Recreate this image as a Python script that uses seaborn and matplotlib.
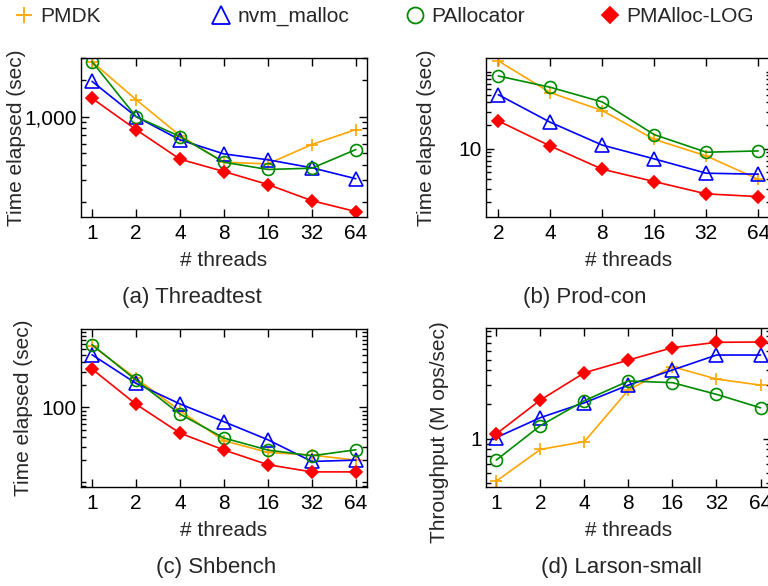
import numpy as np
import pandas as pd
import matplotlib
matplotlib.use("Agg")
import matplotlib.pyplot as plt
import matplotlib.ticker as mticker
from matplotlib.lines import Line2D
import seaborn as sns

ALLOCATORS = ["PMDK", "nvm_malloc", "PAllocator", "PMAlloc-LOG"]

THREADS = [1, 2, 4, 8, 16, 32, 64]
THREADS_PRODCON = [2, 4, 8, 16, 32, 64]

# (a) Threadtest - time elapsed (sec)
threadtest_pmdk = [2825, 1378, 698, 422, 409, 590, 782]
threadtest_nvm = [1947, 1000, 644, 494, 442, 380, 309]
threadtest_palloc = [2825, 1000, 686, 422, 368, 377, 536]
threadtest_pmalloc = [1413, 782, 447, 354, 277, 204, 166]

# (b) Prod-con - time elapsed (sec)
prodcon_pmdk = [138, 53.4, 31.2, 13.2, 8.04, 4.0]
prodcon_nvm = [50.2, 22.0, 11.1, 7.35, 4.79, 4.65]
prodcon_palloc = [87.9, 62.7, 40.4, 15.2, 8.98, 9.33]
prodcon_pmalloc = [22.9, 10.8, 5.4, 3.73, 2.58, 2.38]

# (c) Shbench - time elapsed (sec)
shbench_pmdk = [663, 244, 90, 35.9, 25.1, 23.1, 19.8]
shbench_nvm = [502, 209, 111, 64.3, 37.0, 19.0, 19.8]
shbench_palloc = [684, 231, 81.4, 39.0, 27.0, 22.6, 27.2]
shbench_pmalloc = [324, 110, 45.4, 27.0, 17.2, 13.8, 13.8]

# (d) Larson-small - throughput (M ops/sec)
larson_pmdk = [0.42, 0.80, 0.94, 2.69, 4.32, 3.36, 2.97]
larson_nvm = [1.02, 1.53, 2.07, 2.97, 4.04, 5.48, 5.48]
larson_palloc = [0.645, 1.30, 2.16, 3.23, 3.12, 2.46, 1.87]
larson_pmalloc = [1.10, 2.19, 3.82, 4.95, 6.37, 7.10, 7.15]

STYLES = {
    "PMDK": dict(color="#ffa500", marker="+", ms=8.6, fill=False, leg_ms=11),
    "nvm_malloc": dict(color="#0000ff", marker="^", ms=9.4, fill=False, leg_ms=12.5),
    "PAllocator": dict(color="#008a00", marker="o", ms=8.6, fill=False, leg_ms=11.5),
    "PMAlloc-LOG": dict(color="#ff0000", marker="D", ms=6.3, fill=True, leg_ms=8.6),
}

sns.set_style("ticks")
plt.rcParams["font.family"] = ["Liberation Sans", "DejaVu Sans"]
plt.rcParams["axes.linewidth"] = 1.0
plt.rcParams["axes.edgecolor"] = "black"

W, H = 768, 586
fig = plt.figure(figsize=(W / 100, H / 100), dpi=100)


def px_rect(left, top, right, bottom):
    return [left / W, 1 - bottom / H, (right - left) / W, (bottom - top) / H]


def draw_panel(ax, threads, series, xlim, ylim, ytick, ylabel, ylabel_xy):
    df = pd.DataFrame({"threads": threads, **series})
    long_df = df.melt(id_vars="threads", var_name="allocator", value_name="value")
    for name in ALLOCATORS:
        st = STYLES[name]
        sns.lineplot(
            data=long_df[long_df["allocator"] == name], x="threads", y="value",
            ax=ax, color=st["color"], marker=st["marker"], markersize=st["ms"],
            markerfacecolor=st["color"] if st["fill"] else "none",
            markeredgecolor=st["color"], markeredgewidth=1.2,
            linewidth=1.2, errorbar=None, legend=False,
        )
    ax.set_xscale("log", base=2)
    ax.set_yscale("log")
    ax.set_xlim(xlim)
    ax.set_ylim(ylim)
    ax.xaxis.set_major_locator(mticker.FixedLocator(threads))
    ax.xaxis.set_major_formatter(mticker.FuncFormatter(lambda v, p: f"{int(round(v))}"))
    ax.xaxis.set_minor_locator(mticker.NullLocator())
    ax.yaxis.set_major_locator(mticker.FixedLocator([ytick]))
    ax.yaxis.set_major_formatter(mticker.FuncFormatter(lambda v, p: f"{v:,.0f}"))
    ax.yaxis.set_minor_locator(mticker.LogLocator(base=10, subs=np.arange(1, 10), numticks=100))
    ax.yaxis.set_minor_formatter(mticker.NullFormatter())
    ax.tick_params(which="both", direction="in", top=True, right=True,
                   labelsize=15, width=1.0, colors="black")
    ax.tick_params(which="major", length=6)
    ax.tick_params(which="minor", length=3.5)
    ax.tick_params(axis="x", pad=5)
    ax.tick_params(axis="y", pad=3)
    ax.set_xlabel("# threads", fontsize=15)
    ax.set_ylabel(ylabel, fontsize=15)
    ax.xaxis.set_label_coords(0.5, -0.21)
    ax.yaxis.set_label_coords(*ylabel_xy)


ax_a = fig.add_axes(px_rect(81, 57.7, 366.7, 217.3))
draw_panel(ax_a, THREADS,
           {"PMDK": threadtest_pmdk, "nvm_malloc": threadtest_nvm,
            "PAllocator": threadtest_palloc, "PMAlloc-LOG": threadtest_pmalloc},
           (0.84, 76), (149, 3045), 1000, "Time elapsed (sec)", (-0.194, 0.5))

ax_b = fig.add_axes(px_rect(485.7, 57.7, 770.6, 217.3))
draw_panel(ax_b, THREADS_PRODCON,
           {"PMDK": prodcon_pmdk, "nvm_malloc": prodcon_nvm,
            "PAllocator": prodcon_palloc, "PMAlloc-LOG": prodcon_pmalloc},
           (1.69, 75.5), (1.28, 152), 10, "Time elapsed (sec)", (-0.173, 0.5))

ax_c = fig.add_axes(px_rect(81, 329, 366.7, 487.3))
draw_panel(ax_c, THREADS,
           {"PMDK": shbench_pmdk, "nvm_malloc": shbench_nvm,
            "PAllocator": shbench_palloc, "PMAlloc-LOG": shbench_pmalloc},
           (0.84, 76), (8.6, 1107), 100, "Time elapsed (sec)", (-0.167, 0.5))

ax_d = fig.add_axes(px_rect(485.7, 328.3, 770.6, 487.3))
draw_panel(ax_d, THREADS,
           {"PMDK": larson_pmdk, "nvm_malloc": larson_nvm,
            "PAllocator": larson_palloc, "PMAlloc-LOG": larson_pmalloc},
           (0.846, 75.0), (0.37, 9.45), 1, "Throughput (M ops/sec)", (-0.129, 0.345))

# subfigure captions
fig.text(192 / W, 1 - 297 / H, "(a) Threadtest", fontsize=16, ha="center", va="center")
fig.text(585 / W, 1 - 297 / H, "(b) Prod-con", fontsize=16, ha="center", va="center")
fig.text(216 / W, 1 - 567 / H, "(c) Shbench", fontsize=16, ha="center", va="center")
fig.text(621 / W, 1 - 567 / H, "(d) Larson-small", fontsize=16, ha="center", va="center")

# legend row on top
legend_x = [24, 221, 415, 610]
for name, cx in zip(ALLOCATORS, legend_x):
    st = STYLES[name]
    handle = Line2D([], [], linestyle="none", marker=st["marker"], markersize=st["leg_ms"],
                    color=st["color"], markeredgewidth=1.3,
                    markerfacecolor=st["color"] if st["fill"] else "none")
    fig.legend(handles=[handle], labels=[name], loc="center left",
               bbox_to_anchor=((cx - 10.4) / W, 1 - 16.5 / H), frameon=False,
               handlelength=1.0, handletextpad=0.28, borderpad=0, borderaxespad=0,
               fontsize=15)

fig.savefig("out.png", dpi=100)
